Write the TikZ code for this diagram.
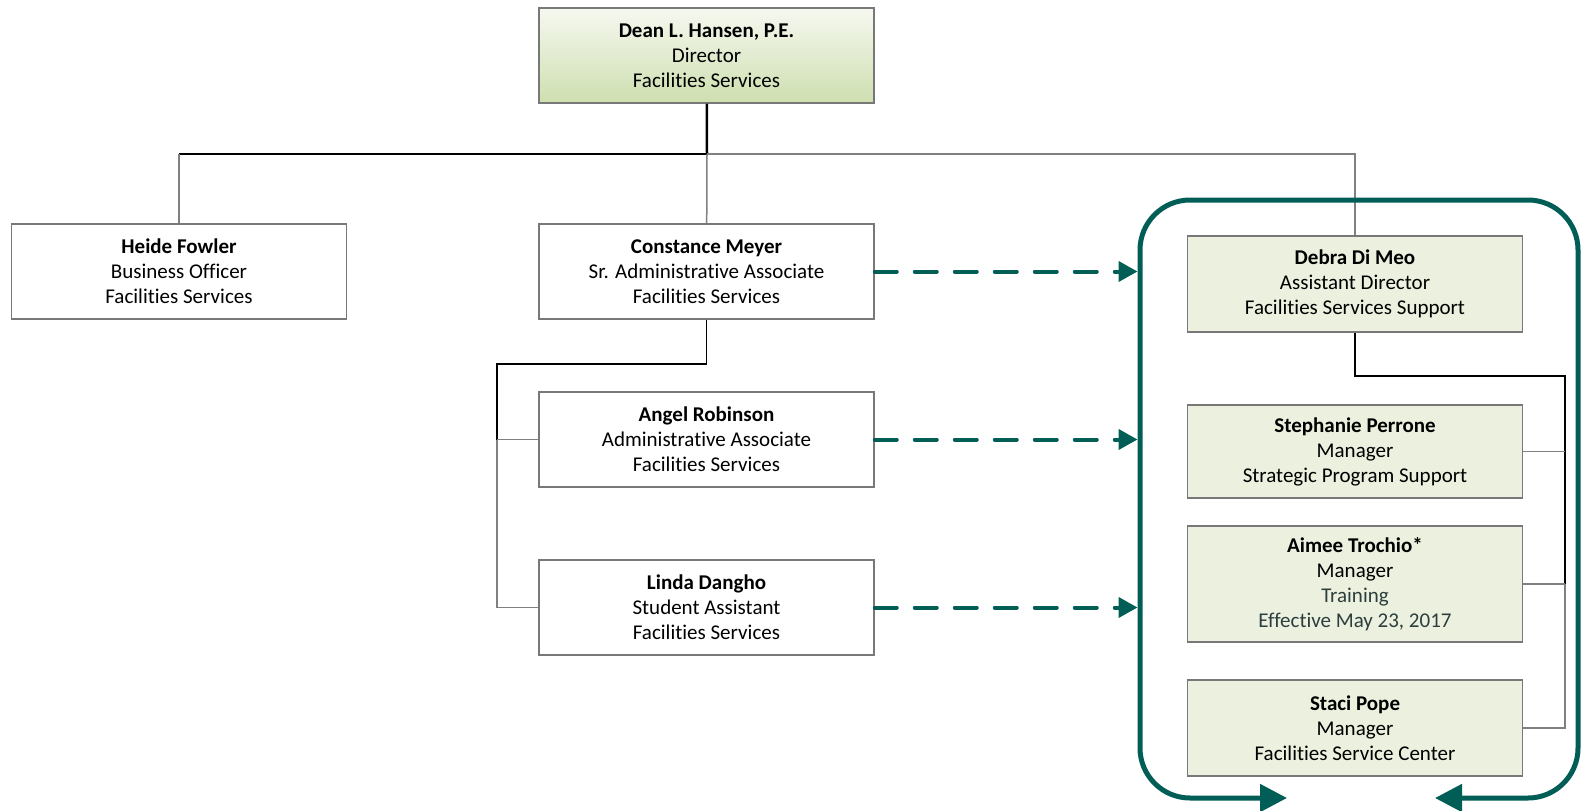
\documentclass[tikz,border=0pt]{standalone}
\usepackage{fontspec}
\setmainfont{Carlito}[Ligatures=NoCommon]
\usepackage{tikz}
\usetikzlibrary{arrows.meta,calc}

\definecolor{teal}{RGB}{0,94,86}
\definecolor{boxline}{RGB}{120,120,120}
\definecolor{boxfill}{RGB}{235,241,222}
\definecolor{gradtop}{RGB}{246,248,240}
\definecolor{gradbot}{RGB}{206,223,176}
\definecolor{note}{RGB}{44,62,62}
\definecolor{link}{RGB}{128,128,128}

\begin{document}
\begin{tikzpicture}[x=1pt,y=-1pt]
%===STYLES===
\tikzset{
 person/.style ={draw=boxline, line width=1.5pt, rectangle, inner sep=0pt, align=center,
   minimum width=335pt, minimum height=95pt, font=\fontsize{21}{25}\selectfont},
 plain/.style ={person, fill=white},
 support/.style ={person, fill=boxfill},
 head/.style ={person, top color=gradtop, bottom color=gradbot},
 linkdark/.style ={black, line width=1.4pt},
 linkgray/.style ={link, line width=1.5pt},
 dotted line/.style ={teal, line width=4pt, line cap=round, dash pattern=on 22pt off 18pt,
   -{Triangle[length=19pt,width=20pt]}},
 frame/.style ={teal, line width=5pt, rounded corners=50pt,
   {Triangle[length=27pt,width=27pt]}-{Triangle[length=27pt,width=27pt]}}
}
\useasboundingbox (0,0) rectangle (1585,811);
%===BOXES===
\node[head] (dean) at (706.5,55.5) {\textbf{Dean L. Hansen, P.E.}\\Director\\Facilities Services};
\node[plain] (fowler) at (179,271.5) {\textbf{Heide Fowler}\\Business Officer\\Facilities Services};
\node[plain] (meyer) at (706.5,271.5) {\textbf{Constance Meyer}\\Sr. Administrative Associate\\Facilities Services};
\node[plain] (robinson) at (706.5,439.5) {\textbf{Angel Robinson}\\Administrative Associate\\Facilities Services};
\node[plain] (dangho) at (706.5,607.5) {\textbf{Linda Dangho}\\Student Assistant\\Facilities Services};
\node[support, minimum height=96pt] (dimeo) at (1355,284) {\textbf{Debra Di Meo}\\Assistant Director\\Facilities Services Support};
\node[support, minimum height=93pt] (perrone) at (1355,451.5) {\textbf{Stephanie Perrone}\\Manager\\Strategic Program Support};
\node[support, minimum height=116pt] (trochio) at (1355,584) {\textbf{Aimee Trochio*}\\Manager\\{\color{note}Training}\\{\color{note}Effective May 23, 2017}};
\node[support, minimum height=96pt] (pope) at (1355,728) {\textbf{Staci Pope}\\Manager\\Facilities Service Center};
%===BUS POINTS===
\coordinate (bus) at (707,154);
\coordinate (mbus) at (497,364);
\coordinate (rbus) at (1565,376);
%===DIRECTOR LINES===
\draw[black, line width=2.5pt] (dean) -- (bus);
\draw[linkdark] (bus) -- (bus -| fowler);
\draw[linkgray] (bus -| fowler) -- (fowler);
\draw[linkgray] (bus) -- (meyer);
\draw[linkgray] (bus) -| (dimeo);
%===ADMIN LINES===
\draw[linkdark] (meyer) |- (mbus) -- (mbus |- robinson);
\draw[linkgray] (mbus |- robinson) -- (robinson);
\draw[linkgray] (mbus |- robinson) -- (mbus |- dangho) -- (dangho);
%===SUPPORT LINES===
\draw[linkdark] (dimeo) |- (rbus) -- (rbus |- trochio);
\draw[linkgray] (rbus |- perrone) -- (perrone);
\draw[linkgray] (rbus |- trochio) -- (trochio);
\draw[linkgray] (rbus |- trochio) -- (rbus |- pope) -- (pope);
%===TEAM FRAME===
\coordinate (fsw) at (1140,798);
\coordinate (fnw) at (1140,200);
\coordinate (fne) at (1578,200);
\coordinate (fse) at (1578,798);
\draw[frame] (1287,798) -- (fsw) -- (fnw) -- (fne) -- (fse) -- (1435,798);
%===DOTTED REPORTING===
\coordinate (fedge) at (1137.5,0);
\draw[dotted line] (meyer.east) -- (meyer.east -| fedge);
\draw[dotted line] (robinson.east) -- (robinson.east -| fedge);
\draw[dotted line] (dangho.east) -- (dangho.east -| fedge);
\end{tikzpicture}
\end{document}
